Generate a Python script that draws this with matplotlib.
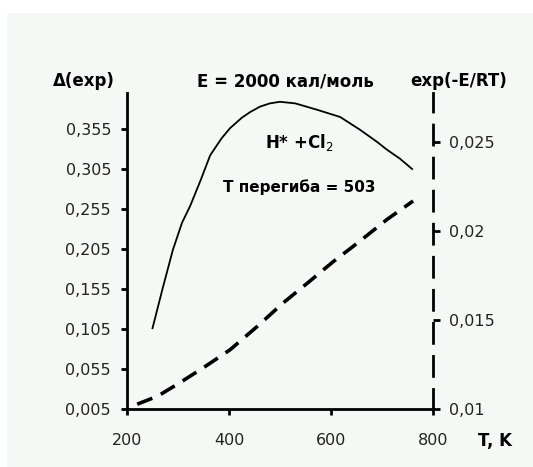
import matplotlib
matplotlib.use("Agg")
import matplotlib.pyplot as plt
from matplotlib.patches import Rectangle

plt.rcParams['font.family'] = ['DejaVu Sans']

# Delta(exp) curve (solid), left axis
t_delta = [250, 270, 290, 308, 324, 345, 363, 385, 402, 425, 441, 461, 480, 500, 530, 573, 618, 657, 690, 710, 735, 759]
delta = [0.106, 0.156, 0.204, 0.238, 0.259, 0.292, 0.322, 0.343, 0.356, 0.369, 0.376, 0.383, 0.387, 0.389, 0.387, 0.379, 0.370, 0.354, 0.339, 0.329, 0.318, 0.305]

# exp(-E/RT) curve (dashed), drawn in left-axis units
t_exp = [220, 260, 304, 353, 402, 455, 506, 555, 604, 655, 710, 761]
expv = [0.011, 0.021, 0.038, 0.058, 0.079, 0.108, 0.1375, 0.163, 0.189, 0.214, 0.242, 0.265]

left_ticks = [0.005, 0.055, 0.105, 0.155, 0.205, 0.255, 0.305, 0.355]
left_labels = ["0,005", "0,055", "0,105", "0,155", "0,205", "0,255", "0,305", "0,355"]
right_ticks = [0.01, 0.015, 0.02, 0.025]
right_labels = ["0,01", "0,015", "0,02", "0,025"]
x_ticks = [200, 400, 600, 800]

fig = plt.figure(figsize=(5.33, 4.67), dpi=100, facecolor="white")
fig.patches.append(Rectangle((7 / 533, 0), 1, 1 - 13 / 467, transform=fig.transFigure,
                             facecolor="#f5f9f6", edgecolor="none", zorder=-5))

ax = fig.add_axes([127 / 533, 1 - 409 / 467, (433 - 127) / 533, (409 - 93) / 467])
ax.set_facecolor("none")
ax.plot(t_delta, delta, color="black", lw=1.3, clip_on=False)
ax.plot(t_exp, expv, color="black", lw=2.6, dashes=(4.5, 2.6), clip_on=False)

ax.set_xlim(200, 800)
ax.set_ylim(0.005, 0.40)
ax.set_xticks(x_ticks)
ax.set_yticks(left_ticks)
ax.set_yticklabels(left_labels)
for s in ["top", "right"]:
    ax.spines[s].set_visible(False)
ax.spines["left"].set_linewidth(2)
ax.spines["bottom"].set_linewidth(2)
ax.tick_params(axis="both", direction="out", length=4.5, width=2, labelsize=11.5, colors="black")
ax.tick_params(axis="x", pad=13, labelcolor="#222222")
ax.tick_params(axis="y", pad=7, labelcolor="#222222")

ax2 = ax.twinx()
ax2.set_ylim(0.01, 0.02776)
ax2.set_yticks(right_ticks)
ax2.set_yticklabels(right_labels)
for s in ["top", "left", "bottom"]:
    ax2.spines[s].set_visible(False)
ax2.spines["right"].set_linewidth(2)
ax2.spines["right"].set_linestyle((0, (7.2, 4.7)))
ax2.tick_params(axis="y", direction="out", length=5, width=2, labelsize=11.5, labelcolor="#222222", pad=6.5)

fig.text(53 / 533, 1 - 81 / 467, "Δ(exp)", fontsize=12, fontweight="bold", va="center")
fig.text(197 / 533, 1 - 81 / 467, "E = 2000 кал/моль", fontsize=12, fontweight="bold", va="center")
fig.text(410 / 533, 1 - 81 / 467, "exp(-E/RT)", fontsize=12, fontweight="bold", va="center")
fig.text(478 / 533, 1 - 441 / 467, "T, K", fontsize=12, fontweight="bold", va="center")
fig.text(265 / 533, 1 - 142 / 467, "H* +Cl$_2$", fontsize=12, fontweight="bold", va="center")
fig.text(223 / 533, 1 - 187 / 467, "Т перегиба = 503", fontsize=11, fontweight="bold", va="center")

fig.savefig("out.png", dpi=100, facecolor="white")
